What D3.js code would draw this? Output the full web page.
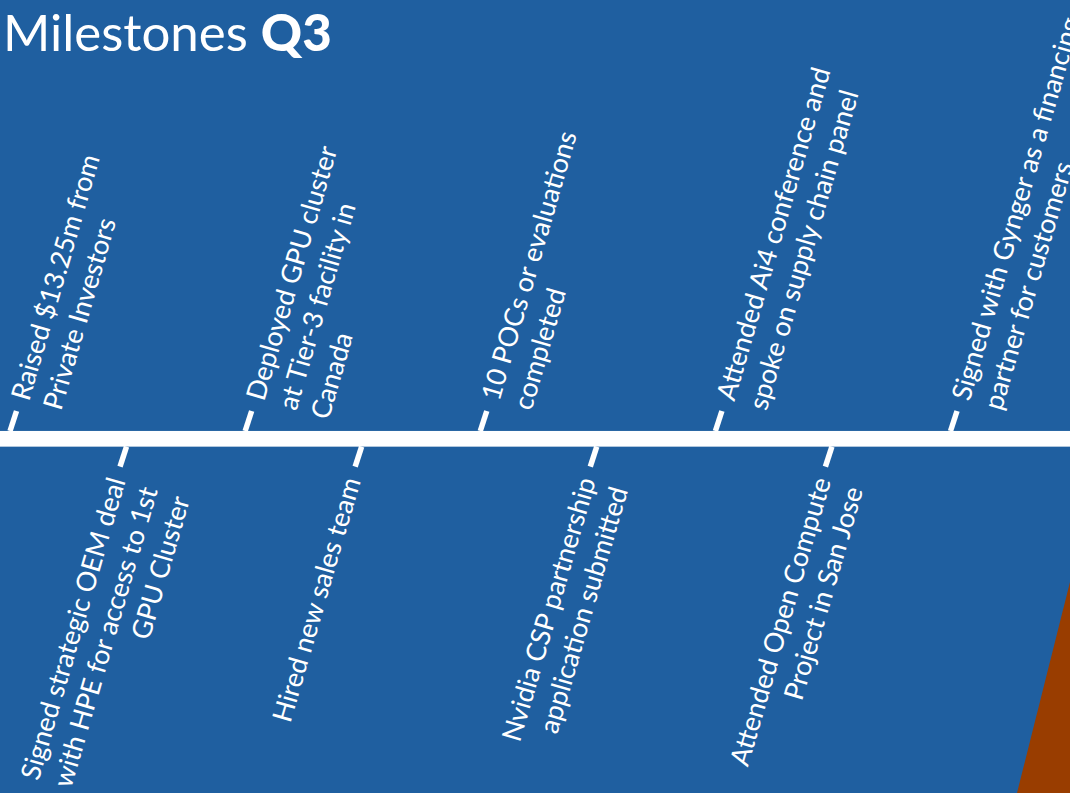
<!DOCTYPE html>
<html><head><meta charset="utf-8">
<script src="https://cdn.jsdelivr.net/npm/d3@7"></script>
<style>
html,body{margin:0;padding:0;background:#1f5fa0;overflow:hidden}
svg{display:block}
</style></head>
<body>
<svg id="chart" width="1070" height="793"></svg>
<script>
// ---- data ----
const titleText = "Milestones";
const titleBold = "Q3";
const eventOrder = [0, 1, 2, 3, 4, 5, 6, 7, 8];
const eventSide = ["up", "down", "up", "down", "up", "down", "up", "down", "up"];
const eventLabels = [
  ["Raised $13.25m from", "Private Investors"],
  ["Signed strategic OEM deal", "with HPE for access to 1st", "GPU Cluster"],
  ["Deployed GPU cluster", "at Tier-3 facility in", "Canada"],
  ["Hired new sales team"],
  ["10 POCs or evaluations", "completed"],
  ["Nvidia CSP partnership", "application submitted"],
  ["Attended Ai4 conference and", "spoke on supply chain panel"],
  ["Attended Open Compute", "Project in San Jose"],
  ["Signed with Gynger as a financing", "partner for customers"]
];

// ---- layout / style ----
const W = 1070, H = 793;
const BG = "#1f5fa0", ACCENT = "#993d00", FG = "#ffffff";
const FONT = "Lato, 'Open Sans', sans-serif";
const lineY = 438.8, lineW = 15.7;
const tickK = Math.tan(18 * Math.PI / 180);
const textAngle = 16.2; // degrees from vertical
const tSin = Math.sin(textAngle * Math.PI / 180), tCos = Math.cos(textAngle * Math.PI / 180);
const tickIn = 7.8, tickOut = 27.8, gap = 12;
const labelSize = 27, lineH = 33.5;
const downShift = 4;

const svg = d3.select("#chart");
svg.append("rect").attr("width", W).attr("height", H).attr("fill", BG);

// accent triangle bottom-right
svg.append("path")
  .attr("d", `M${W},582 L1017,${H} L${W},${H} Z`)
  .attr("fill", ACCENT);

// title
const title = svg.append("text")
  .attr("x", 3).attr("y", 51)
  .attr("font-family", FONT).attr("font-size", 51)
  .attr("fill", FG);
title.append("tspan").text(titleText + " ");
title.append("tspan").attr("font-weight", 900).text(titleBold);

// scale
const x = d3.scaleLinear().domain(d3.extent(eventOrder)).range([7.5, 948]);

// timeline
svg.append("rect")
  .attr("x", 0).attr("y", lineY - lineW / 2)
  .attr("width", W).attr("height", lineW)
  .attr("fill", FG);

const events = eventOrder.map((o, i) => ({ o, side: eventSide[i], lines: eventLabels[i] }));

const g = svg.append("g").selectAll("g").data(events).join("g");

g.each(function (d) {
  const sel = d3.select(this);
  const up = d.side === "up";
  const cx = x(d.o) + (up ? 0 : downShift);
  const s = up ? -1 : 1;
  const p = v => [cx - s * v * tickK, lineY + s * v];
  const a = p(tickIn), b = p(tickOut);
  sel.append("line")
    .attr("x1", a[0]).attr("y1", a[1]).attr("x2", b[0]).attr("y2", b[1])
    .attr("stroke", FG).attr("stroke-width", 5.5);
  const ax = b[0] - s * gap * tSin, ay = b[1] + s * gap * tCos;
  const t = sel.append("text")
    .attr("transform", `translate(${ax},${ay}) rotate(${-(90 - textAngle)})`)
    .attr("font-family", FONT).attr("font-size", labelSize)
    .attr("fill", FG)
    .attr("text-anchor", up ? "start" : "end");
  t.selectAll("tspan").data(d.lines).join("tspan")
    .attr("x", 0).attr("y", (l, i) => i * lineH).attr("dy", "0.35em")
    .text(l => l);
});
</script>
</body></html>
